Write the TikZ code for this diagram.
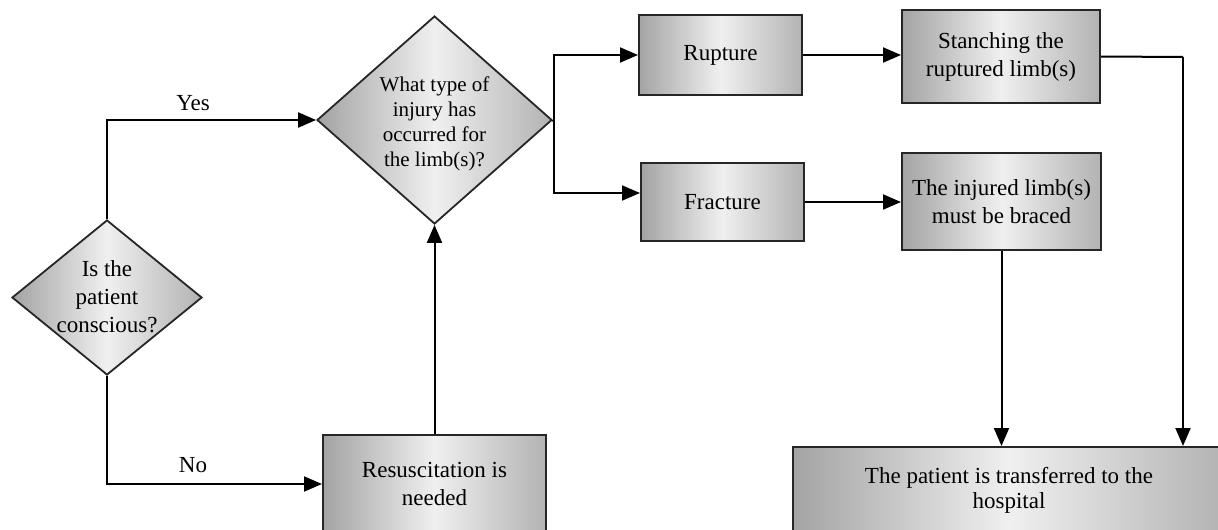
\documentclass[tikz,border=0pt]{standalone}
\usepackage{fontspec}
\setmainfont{Liberation Serif}
\usetikzlibrary{shapes.geometric,arrows.meta}
\begin{document}
\begin{tikzpicture}[x=1pt,y=-1pt,
  metal/.style={left color=gray!72, right color=gray!60, middle color=gray!12},
  box/.style={rectangle, draw=black!85, line width=2pt, metal, inner sep=0pt, align=center, font=\fontsize{23}{28}\selectfont},
  dia/.style={diamond, draw=black!85, line width=1.8pt, metal, inner sep=0pt},
  txt/.style={align=center, font=\fontsize{23}{28}\selectfont, inner sep=0pt},
  line/.style={line width=2pt, black},
  conn/.style={line, -{Triangle[length=18pt,width=15pt]}}]
\useasboundingbox (0,0) rectangle (1218,530);
\clip (0,0) rectangle (1218,530);

% diamonds
\node[dia, minimum width=190pt, minimum height=155pt] (d1) at (107,297.5) {};
\node[txt] (d1t) at (107,297) {Is the\\patient\\conscious?};
\node[dia, minimum width=235pt, minimum height=208pt] (d2) at (434.5,120) {};
\node[txt, font=\fontsize{21}{25}\selectfont] (d2t) at (434.5,124) {What type of\\injury has\\occurred for\\the limb(s)?};

% boxes
\node[box, minimum width=163pt, minimum height=80pt] (rupt) at (720.5,55) {Rupture};
\node[box, minimum width=163pt, minimum height=78pt] (frac) at (722.5,202) {Fracture};
\node[box, minimum width=198pt, minimum height=93pt] (stanch) at (1001,56.5) {Stanching the\\ruptured limb(s)};
\node[box, minimum width=199pt, minimum height=97pt] (braced) at (1001.5,201.5) {The injured limb(s)\\must be braced};
\node[box, minimum width=223pt, minimum height=98pt] (resus) at (434.5,484) {};
\node[txt] (resust) at (434.5,484) {Resuscitation is\\needed};
\node[box, minimum width=432pt, minimum height=120pt, anchor=north] (hosp) at (1009,446) {};
\node[txt, font=\fontsize{23}{25}\selectfont] (hospt) at (1009,490) {The patient is transferred to the\\hospital};

% labels
\node[txt] (yes) at (193,103) {Yes};
\node[txt] (no) at (193,465) {No};

% connectors
\draw[conn] (d1.north) |- (d2.west);
\draw[conn] (d1.south) |- (resus.west);
\draw[conn] (resus.north) -- (d2.south);
\coordinate (split) at (554,122);
\draw[line] (d2.east) -- (split);
\draw[conn] (split) |- (rupt.west);
\draw[conn] (split) |- ([yshift=9pt]frac.west);
\draw[conn] (rupt.east) -- (rupt.east -| stanch.west);
\draw[conn] (frac.east) -- (frac.east -| braced.west);
\coordinate (c1) at (1183,57);
\draw[line] (stanch.east) -- (c1);
\draw[conn] (c1) -- (c1 |- hosp.north);
\draw[conn] (braced.south) -- (braced.south |- hosp.north);
\end{tikzpicture}
\end{document}
